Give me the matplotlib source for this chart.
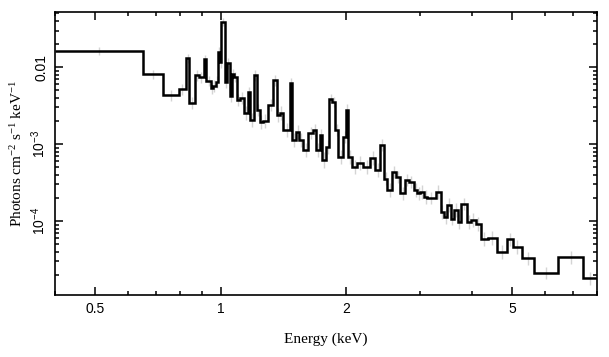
import matplotlib
matplotlib.use("Agg")
import matplotlib.pyplot as plt
from matplotlib.ticker import FixedLocator, NullFormatter, LogLocator
import numpy as np

# bin edges (keV) of the unfolded spectrum
edges = [0.400, 0.652, 0.725, 0.792, 0.827, 0.839, 0.869, 0.887, 0.910, 0.924,
         0.946, 0.957, 0.973, 0.983, 0.994, 1.003, 1.023, 1.033, 1.051,
         1.063, 1.075, 1.091, 1.111, 1.136, 1.162, 1.175, 1.201, 1.219, 1.242,
         1.262, 1.298, 1.335, 1.362, 1.387, 1.410, 1.467, 1.485, 1.516, 1.542,
         1.576, 1.621, 1.666, 1.694, 1.732, 1.752, 1.791, 1.821, 1.851, 1.882,
         1.914, 1.968, 2.001, 2.023, 2.069, 2.127, 2.199, 2.286, 2.350, 2.416,
         2.461, 2.512, 2.578, 2.641, 2.700, 2.761, 2.827, 2.907, 2.962, 3.005,
         3.073, 3.131, 3.280, 3.372, 3.434, 3.499, 3.563, 3.629, 3.710, 3.766,
         3.894, 3.981, 4.093, 4.208, 4.375, 4.599, 4.862, 5.017, 5.275, 5.655,
         6.462, 7.399, 8.000]

# photons cm-2 s-1 keV-1 in each bin
flux = [0.0163, 0.00811, 0.00433, 0.00518, 0.0131, 0.00341, 0.00787, 0.00742, 0.0127, 0.00664,
        0.00534, 0.00572, 0.00639, 0.0158, 0.0116, 0.0388, 0.00639, 0.0113, 0.00420,
        0.00811, 0.00748, 0.00373, 0.00396, 0.00253, 0.00478, 0.00205, 0.00787, 0.00276, 0.00193,
        0.00199, 0.00321, 0.00678, 0.00238, 0.00253, 0.00152, 0.00625, 0.00113, 0.00143, 0.00113,
        0.000836, 0.00139, 0.00152, 0.000836, 0.00131, 0.000620, 0.000914, 0.00392, 0.00354, 0.00152,
        0.000684, 0.00124, 0.00282, 0.000684, 0.000503, 0.000567, 0.000503, 0.000658, 0.000460, 0.000970,
        0.000358, 0.000253, 0.000437, 0.000376, 0.000229, 0.000341, 0.000324, 0.000253, 0.000229, 0.000240,
        0.000207, 0.000201, 0.000240, 0.000132, 0.000114, 0.000161, 0.000108, 0.000139, 9.8e-5, 0.000166,
        9.8e-5, 0.000103, 9.14e-5, 5.84e-5, 6.07e-5, 3.99e-5, 5.79e-5, 4.64e-5, 3.28e-5, 2.13e-5,
        3.38e-5, 1.80e-5]

# half-length of the grey error bars, in dex
err_dex = [0.05, 0.06, 0.07, 0.07, 0.06, 0.08, 0.07, 0.07, 0.06, 0.07,
           0.08, 0.08, 0.08, 0.06, 0.07, 0.05, 0.07, 0.07, 0.08,
           0.07, 0.07, 0.08, 0.08, 0.09, 0.07, 0.09, 0.07, 0.08, 0.09,
           0.09, 0.08, 0.07, 0.09, 0.09, 0.09, 0.07, 0.09, 0.09, 0.09,
           0.09, 0.08, 0.08, 0.09, 0.08, 0.10, 0.09, 0.06, 0.06, 0.08,
           0.09, 0.08, 0.07, 0.09, 0.09, 0.09, 0.09, 0.09, 0.09, 0.08,
           0.09, 0.09, 0.08, 0.08, 0.09, 0.08, 0.08, 0.09, 0.09, 0.09,
           0.09, 0.08, 0.09, 0.09, 0.09, 0.09, 0.09, 0.09, 0.10, 0.08,
           0.09, 0.09, 0.09, 0.09, 0.09, 0.09, 0.08, 0.09, 0.08, 0.08,
           0.08, 0.08]

xticks = [0.5, 1, 2, 5]
xticklabels = ["0.5", "1", "2", "5"]
yticks = [1e-4, 1e-3, 1e-2]
yticklabels = [r"$10^{-4}$", r"$10^{-3}$", "0.01"]

plt.rcParams["mathtext.fontset"] = "custom"
plt.rcParams["mathtext.rm"] = "Liberation Sans"
plt.rcParams["mathtext.it"] = "Liberation Sans:italic"

fig = plt.figure(figsize=(6.09, 3.57), dpi=100)
ax = fig.add_axes([0.0903, 0.174, 0.890, 0.792])

e = np.array(edges)
f = np.array(flux)
centers = np.sqrt(e[:-1] * e[1:])
d = np.array(err_dex)
lo = f - f * 10 ** (-d)
hi = f * 10 ** d - f
ax.errorbar(centers, f, yerr=[lo, hi], fmt="none", ecolor="#d4d4d4", elinewidth=1.0, zorder=1)
ax.stairs(f, e, color="black", linewidth=1.8, baseline=None, zorder=2)

ax.set_xscale("log")
ax.set_yscale("log")
ax.set_xlim(0.4, 8.0)
ax.set_ylim(1.1e-5, 0.052)

ax.xaxis.set_major_locator(FixedLocator(xticks))
ax.set_xticklabels(xticklabels, fontfamily="Liberation Sans", fontsize=10)
ax.xaxis.set_minor_locator(FixedLocator([0.4, 0.6, 0.7, 0.8, 0.9, 3, 4, 6, 7, 8]))
ax.xaxis.set_minor_formatter(NullFormatter())

ax.yaxis.set_major_locator(FixedLocator(yticks))
ax.set_yticklabels(yticklabels, fontfamily="Liberation Sans", fontsize=10,
                   rotation=90, va="center")
ax.yaxis.set_minor_locator(LogLocator(base=10, subs=np.arange(2, 10)))
ax.yaxis.set_minor_formatter(NullFormatter())

ax.tick_params(which="both", direction="in", top=True, right=True, width=1.1)
ax.tick_params(which="major", length=5.5, pad=5)
ax.tick_params(which="minor", length=3)
for s in ax.spines.values():
    s.set_linewidth(1.2)

ax.set_xlabel("Energy (keV)", fontfamily="Liberation Serif", fontsize=11, labelpad=12)
ax.set_ylabel(r"Photons cm$\mathregular{^{-2}}$ s$\mathregular{^{-1}}$ keV$\mathregular{^{-1}}$",
              fontfamily="Liberation Serif", fontsize=11, labelpad=3)

fig.savefig("out.png", dpi=100)
